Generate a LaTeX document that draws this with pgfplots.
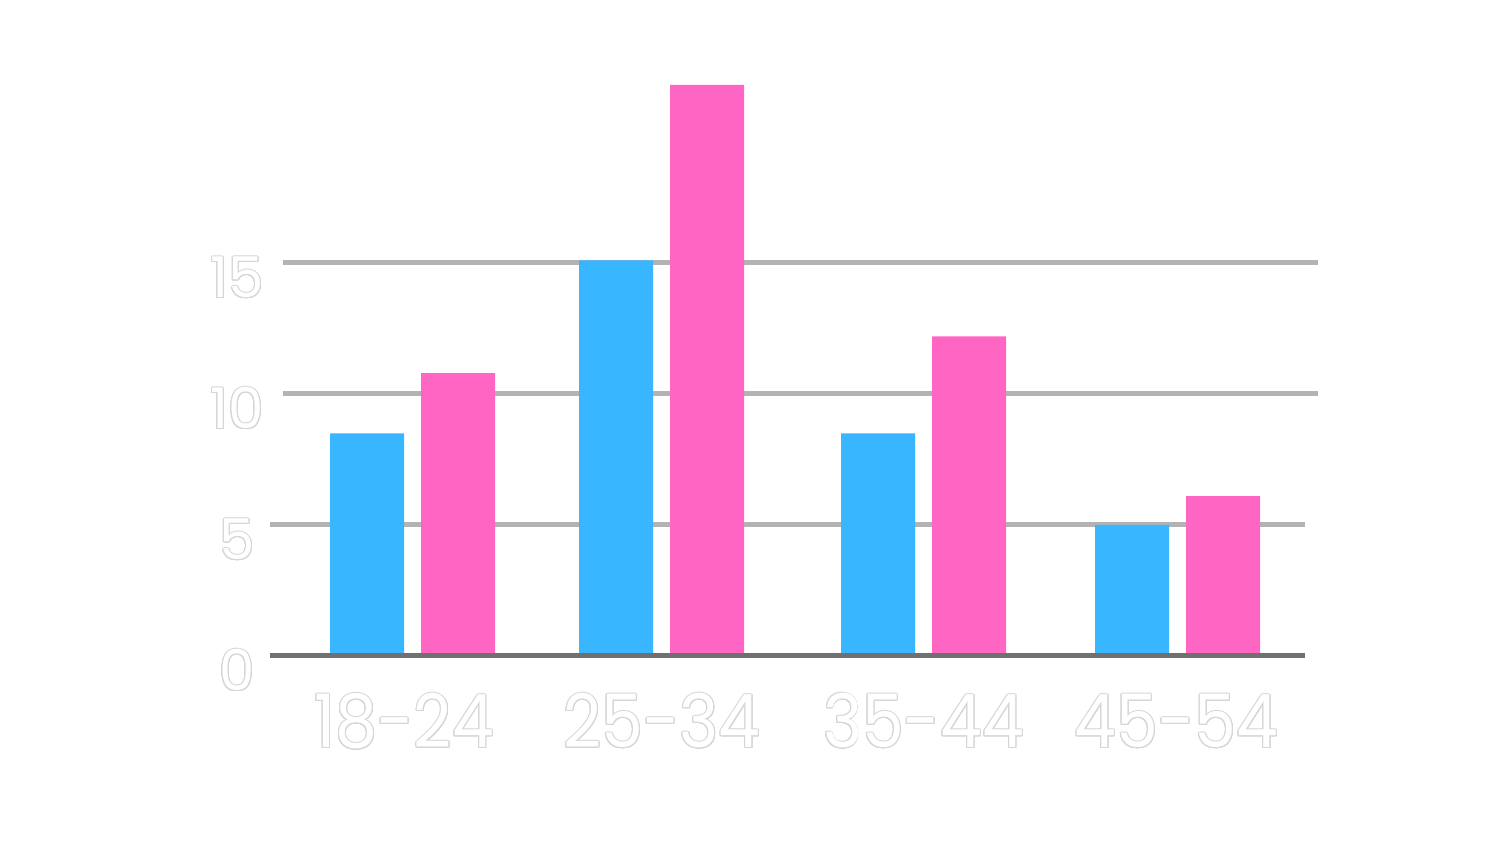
\documentclass[border=0pt]{standalone}
\usepackage{pgfplots}
\pgfplotsset{compat=1.18}
\usepackage{fontspec}
\setmainfont{Poppins}
\newfontfamily\labfont[FakeStretch=0.9]{Poppins}
\usepackage[copies]{contour}
\contourlength{0.28pt}
\contournumber{24}
\definecolor{cblue}{HTML}{38B6FF}
\definecolor{cpink}{HTML}{FF66C4}
\definecolor{gridc}{HTML}{B3B3B3}
\definecolor{zeroc}{HTML}{707070}
\definecolor{outl}{HTML}{D6D6D6}
\newcommand{\ol}[1]{{\color{white}\contour{outl}{#1}}}
\begin{document}
\begin{tikzpicture}
\path (0,0) rectangle (15cm,8.44cm);
\begin{axis}[
  at={(2.70cm,1.88cm)}, anchor=origin,
  scale only axis,
  width=10.48cm, height=5.895cm,
  xmin=2.70, xmax=13.18,
  ymin=0, ymax=22.5,
  axis line style={draw=none},
  tick style={draw=none},
  major tick length=0pt,
  clip=false,
  ybar, bar width=0.74,
  bar shift=0,
  ytick={0,5,10,15},
  yticklabels={\ol{0},\ol{5},\ol{10},\ol{15}},
  yticklabel style={anchor=base, inner sep=0pt, xshift=-0.33cm, yshift=-0.35cm, font=\fontsize{16}{19}\selectfont},
  xtick={4.04,6.62,9.235,11.765},
  xticklabels={\ol{18-24},\ol{25-34},\ol{35-44},\ol{45-54}},
  xticklabel style={anchor=base, inner sep=0pt, yshift=-0.92cm, font=\labfont\fontsize{21}{24}\selectfont},
]
\draw[gridc, line width=0.05cm] (axis cs:2.70,5) -- (axis cs:13.05,5);
\draw[gridc, line width=0.05cm] (axis cs:2.83,10) -- (axis cs:13.18,10);
\draw[gridc, line width=0.05cm] (axis cs:2.83,15) -- (axis cs:13.18,15);
\addplot[fill=cblue, draw=none] coordinates {(3.67,8.5) (6.16,15.1) (8.78,8.5) (11.32,5.0)};
\addplot[fill=cpink, draw=none] coordinates {(4.58,10.8) (7.07,21.8) (9.69,12.2) (12.23,6.1)};
\draw[zeroc, line width=0.05cm] (axis cs:2.70,0) -- (axis cs:13.05,0);
\end{axis}
\end{tikzpicture}
\end{document}
